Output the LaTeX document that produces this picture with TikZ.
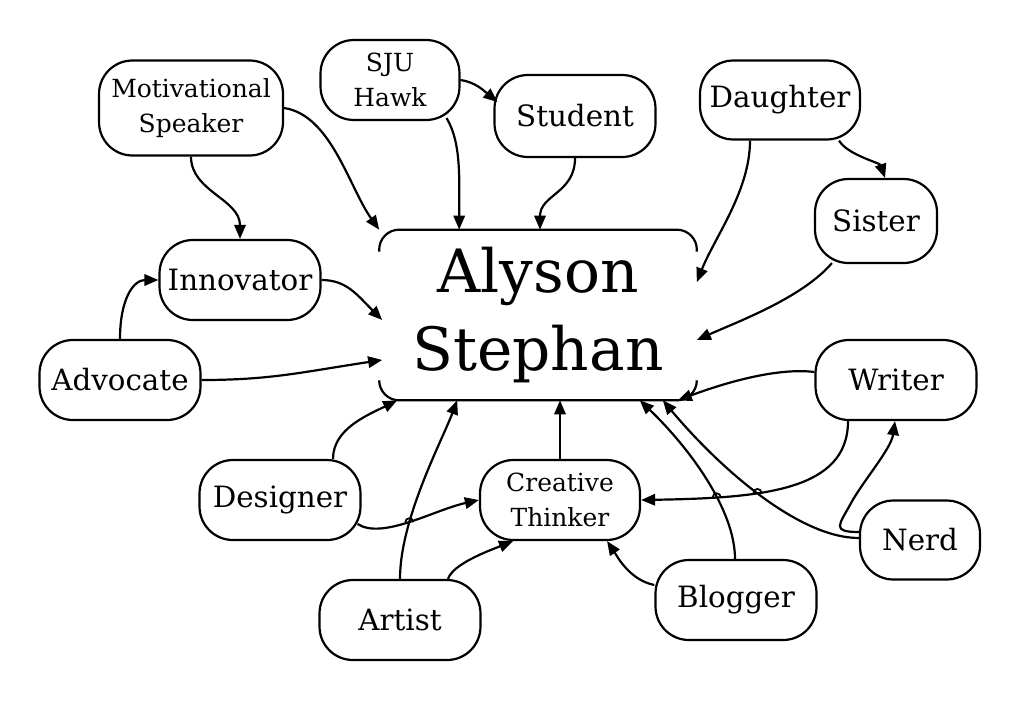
\documentclass[tikz,border=0pt]{standalone}
\usepackage{fontspec}
\setmainfont{DejaVu Serif}
\usetikzlibrary{arrows.meta,calc,intersections}
\begin{document}
\begin{tikzpicture}[x=0.02cm,y=-0.02cm,
  box/.style={draw,line width=1.25pt,rounded corners=19pt,inner sep=0pt,align=center,
    minimum width=3.22cm,minimum height=1.6cm,font=\fontsize{16.7}{20}\selectfont},
  small/.style={font=\fontsize{14.2}{19.5}\selectfont},
  arr/.style={line width=1.25pt,-{Triangle[length=8pt,width=6.5pt]}},
  ln/.style={line width=1.25pt},
  hop/.style={line width=1pt}]
\useasboundingbox (0,0) rectangle (1020,700);

% nodes
\node[box,small,minimum width=3.68cm,minimum height=1.9cm] (MS) at (191,108) {Motivational\\Speaker};
\node[box,small,minimum width=2.78cm] (SJU) at (390,80) {SJU\\Hawk};
\node[box,minimum height=1.64cm] (ST) at (575,116) {Student};
\node[box,minimum width=3.2cm,minimum height=1.58cm] (DA) at (780,100) {Daughter};
\node[box,minimum width=2.44cm,minimum height=1.68cm] (SI) at (876,221) {Sister};
\node[box] (IN) at (240,280) {Innovator};
\node[box] (AD) at (120,380) {Advocate};
\node[inner sep=0pt,minimum width=6.34cm,minimum height=3.4cm,align=center,
  font=\fontsize{34}{44}\selectfont] (A) at (538,315) {\raisebox{-5pt}{}Alyson\\Stephan};
\node[box] (WR) at (896,380) {Writer};
\node[box] (DE) at (280,500) {Designer};
\node[box,small,minimum width=3.2cm] (CT) at (560,500) {Creative\\Thinker};
\node[box,minimum width=2.4cm,minimum height=1.58cm] (NE) at (920,540) {Nerd};
\node[box] (AR) at (400,620) {Artist};
\node[box] (BL) at (736,600) {Blogger};

% partial border of the central node
\draw[ln,rounded corners=0.4cm] ($(A.north west)+(0,22)$) |- (A.north east) -- ($(A.north east)+(0,22)$);
\draw[ln,rounded corners=0.4cm] ($(A.south west)+(0,-20)$) |- (A.south east) -- ($(A.south east)+(0,-20)$);

% connectors
\draw[arr] (MS.east) .. controls +(47,7) and +(-30,-42) .. (A.north west);
\draw[arr] (MS.south) .. controls +(0,35) and +(0,-40) .. (IN.north);
\draw[arr] (SJU.east) .. controls +(15,2) and +(-12,-10) .. ($(ST.west)+(4,-14)$);
\draw[arr] ($(SJU.south east)+(-14,-3)$) .. controls +(15,25) and +(0,-50) .. ($(A.north west)+(80,0)$);
\draw[arr] (ST.south) .. controls +(0,35) and +(0,-35) .. ($(A.north)+(2,0)$);
\draw[arr] ($(DA.south east)+(-22,0)$) .. controls +(8,14) and +(-5,-15) .. ($(SI.north)+(9,0)$);
\draw[arr] ($(DA.south)+(-30,0)$) .. controls +(0,50) and +(18,-45) .. ($(A.east)+(0,-33)$);
\draw[arr] ($(SI.south west)+(18,-1)$) .. controls +(-30,35) and +(40,-18) .. ($(A.east)+(0,25)$);
\draw[arr] (IN.east) .. controls +(25,0) and +(-25,-25) .. ($(A.west)+(3,5)$);
\draw[arr] (AD.north) .. controls +(0,-40) and +(-25,0) .. (IN.west);
\draw[arr] (AD.east) .. controls +(70,0) and +(-80,12) .. ($(A.west)+(3,45)$);
\draw[arr] ($(DE.north)+(53,0)$) .. controls +(0,-30) and +(-30,15) .. ($(A.south west)+(18,0)$);
\draw[arr,name path=DECT] ($(DE.east)+(-4,24)$) .. controls +(25,16) and +(-45,10) .. (CT.west);
\draw[arr,name path=ARA] (AR.north) .. controls +(0,-60) and +(-15,40) .. ($(A.south west)+(78,0)$);
\draw[arr] ($(AR.north)+(48,0)$) .. controls +(5,-15) and +(-25,10) .. ($(CT.south)+(-47,0)$);
\draw[arr] (CT.north) -- (CT.north |- A.south);
\draw[arr] ($(WR.west)+(0,-8)$) .. controls +(-40,-5) and +(40,-15) .. ($(A.south east)+(-19,0)$);
\draw[arr,name path=WRCT] ($(WR.south)+(-48,0)$) .. controls +(0,70) and +(120,-2) .. (CT.east);
\draw[arr] ($(NE.west)+(0,-8)$) .. controls +(-28,0) and +(-12,22) .. ($(WR.south)+(-45,82)$)
   .. controls +(12,-22) and +(-4,28) .. ($(WR.south)+(-1,0)$);
\draw[arr,name path=NEA] ($(NE.west)+(0,-2)$) .. controls +(-60,0) and +(57,68) .. ($(A.south east)+(-34,0)$);
\draw[arr,name path=BLA] ($(BL.north)+(-1,0)$) .. controls +(0,-49) and +(50,48) .. ($(A.south east)+(-57,0)$);
\draw[arr] ($(BL.west)+(0,-15)$) .. controls +(-25,-5) and +(10,15) .. ($(CT.south east)+(-34,0)$);

% line hops
\path[name intersections={of=DECT and ARA,by=h1}];
\path[name intersections={of=WRCT and BLA,by=h2}];
\path[name intersections={of=WRCT and NEA,by=h3}];
\foreach \h in {h1,h2,h3}
  \draw[hop] ($(\h)+(-0.08cm,0)$) arc[start angle=180,end angle=0,radius=0.08cm];
\end{tikzpicture}
\end{document}
